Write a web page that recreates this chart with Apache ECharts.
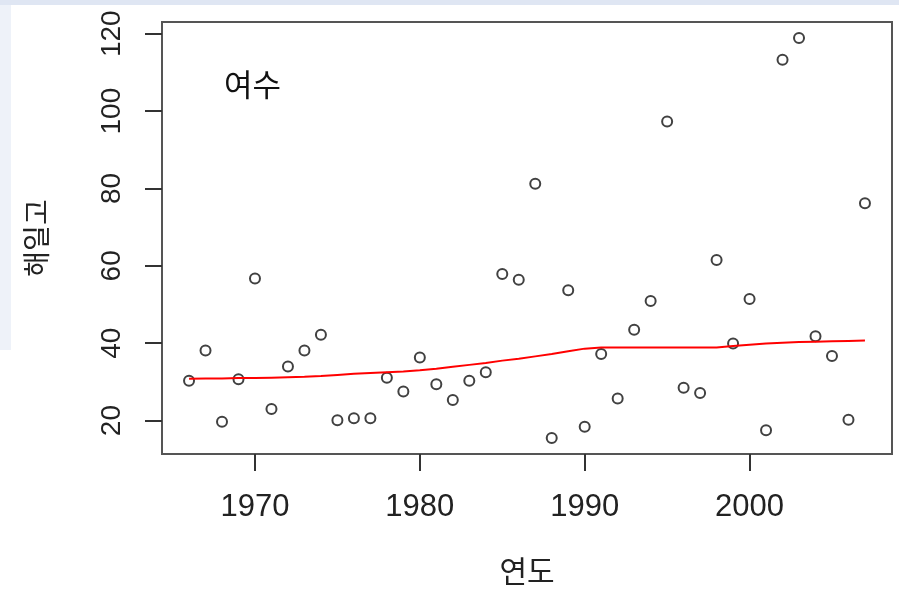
<!DOCTYPE html>
<html>
<head>
<meta charset="utf-8">
<script src="https://cdn.jsdelivr.net/npm/echarts@6/dist/echarts.min.js"></script>
<style>
  html, body { margin: 0; padding: 0; background: #fff; }
  #chart { width: 899px; height: 591px; }
</style>
</head>
<body>
<div id="chart"></div>
<script>
// 여수 surge heights by year
const years = [1966, 1967, 1968, 1969, 1970, 1971, 1972, 1973, 1974, 1975,
  1976, 1977, 1978, 1979, 1980, 1981, 1982, 1983, 1984, 1985,
  1986, 1987, 1988, 1989, 1990, 1991, 1992, 1993, 1994, 1995,
  1996, 1997, 1998, 1999, 2000, 2001, 2002, 2003, 2004, 2005,
  2006, 2007]
const heights = [30.3, 38.1, 19.7, 30.7, 56.7, 23.0, 34.0, 38.1, 42.2, 20.1,
  20.6, 20.6, 31.1, 27.5, 36.3, 29.4, 25.3, 30.3, 32.5, 57.9,
  56.4, 81.2, 15.5, 53.7, 18.4, 37.2, 25.7, 43.5, 50.9, 97.3,
  28.5, 27.1, 61.5, 39.9, 51.4, 17.5, 113.3, 118.9, 41.8, 36.7,
  20.2, 76.2]
// smoothed trend (red line)
const trend = [30.8, 30.9, 30.9, 31.0, 31.0, 31.1, 31.2, 31.3, 31.5, 31.8,
  32.1, 32.3, 32.5, 32.7, 33.0, 33.4, 33.9, 34.4, 34.9, 35.5,
  36.0, 36.6, 37.2, 37.9, 38.6, 38.9, 38.9, 38.9, 38.9, 38.9,
  38.9, 38.9, 38.9, 39.3, 39.6, 39.9, 40.1, 40.3, 40.4, 40.5,
  40.6, 40.7]
const xTicks = [1970, 1980, 1990, 2000]
const yTicks = [20, 40, 60, 80, 100, 120]

const chart = echarts.init(document.getElementById('chart'))

chart.setOption({
  animation: false,
  backgroundColor: '#fff',
  title: {
    text: '여수',
    left: 219,
    top: 64,
    textStyle: { fontFamily: 'Noto Sans CJK KR', fontSize: 31, fontWeight: 'normal', color: '#111' },
  },
  graphic: [
    { type: 'rect', shape: { x: 0, y: 0, width: 899, height: 5 }, style: { fill: '#dfe6f3' }, silent: true },
    { type: 'rect', shape: { x: 0, y: 5, width: 11, height: 345 }, style: { fill: '#eef2f9' }, silent: true },
  ],
  grid: {
    left: 162,
    right: 7,
    top: 22,
    bottom: 132,
    show: true,
    borderColor: '#555',
    borderWidth: 2,
  },
  xAxis: {
    type: 'value',
    min: 1964.36,
    max: 2008.64,
    name: '연도',
    nameLocation: 'middle',
    nameGap: 102,
    nameTextStyle: { fontFamily: 'Noto Sans CJK KR', fontSize: 30, color: '#222' },
    axisLine: { show: false },
    splitLine: { show: false },
    axisTick: { show: true, length: 17, customValues: xTicks, lineStyle: { color: '#333', width: 2 } },
    axisLabel: {
      customValues: xTicks,
      formatter: (v) => String(v),
      margin: 38,
      fontFamily: 'Liberation Sans',
      fontSize: 31,
      color: '#222',
    },
  },
  yAxis: {
    type: 'value',
    min: 11.36,
    max: 123.04,
    name: '해일고',
    nameLocation: 'middle',
    nameGap: 112,
    nameRotate: 90,
    nameTextStyle: { fontFamily: 'Noto Sans CJK KR', fontSize: 28, color: '#222' },
    axisLine: { show: false },
    splitLine: { show: false },
    axisTick: { show: true, length: 17, customValues: yTicks, lineStyle: { color: '#333', width: 2 } },
    axisLabel: {
      customValues: yTicks,
      rotate: 90,
      margin: 36,
      fontFamily: 'Liberation Sans',
      fontSize: 28,
      color: '#222',
    },
  },
  series: [
    {
      type: 'scatter',
      data: years.map((y, i) => [y, heights[i]]),
      symbol: 'circle',
      symbolSize: 10,
      itemStyle: { color: 'transparent', borderColor: '#111', borderWidth: 2 },
      z: 2,
    },
    {
      type: 'line',
      data: years.map((y, i) => [y, trend[i]]),
      symbol: 'none',
      lineStyle: { color: '#ff0000', width: 2 },
      z: 3,
    },
  ],
})
</script>
</body>
</html>
